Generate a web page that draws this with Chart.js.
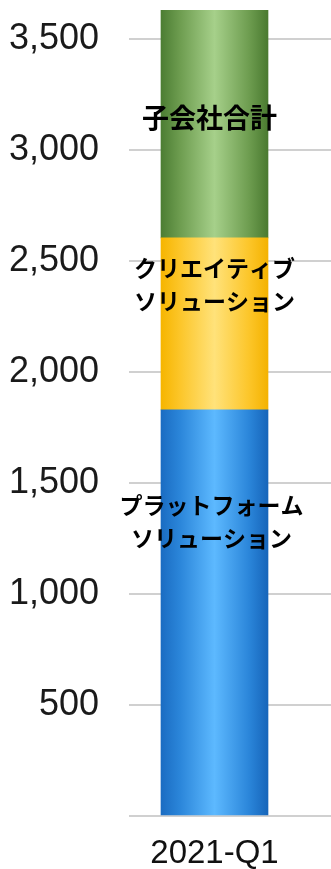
<!DOCTYPE html>
<html>
<head>
<meta charset="utf-8">
<script src="https://cdn.jsdelivr.net/npm/chart.js@4"></script>
<style>
  html, body { margin: 0; padding: 0; background: #fff; }
  #wrap { width: 331px; height: 869px; }
</style>
</head>
<body>
<div id="wrap"><canvas id="c"></canvas></div>
<script>
const categories = ["2021-Q1"];
const platformValues = [1830];
const creativeValues = [775];
const subsidiaryValues = [1025];
const yTickValues = [0, 500, 1000, 1500, 2000, 2500, 3000, 3500];
const segmentLabels = [
  ["プラットフォーム", "ソリューション"],
  ["クリエイティブ", "ソリューション"],
  ["子会社合計"],
];

// label placement inside each segment: fraction from segment top, x shift, font size
const labelStyle = [
  { frac: 0.277, dx: -3, size: 23 },
  { frac: 0.273, dx: 0, size: 23 },
  { frac: 0.47, dx: -5, size: 27 },
];

const BAR_W = 107;

// cylinder-like horizontal shading for a bar
function shade(stops) {
  return (ctx) => {
    const chart = ctx.chart;
    const x = chart.scales.x;
    if (!chart.chartArea || !x) return stops[2];
    const cx = x.getPixelForValue(0);
    const g = chart.ctx.createLinearGradient(cx - BAR_W / 2, 0, cx + BAR_W / 2, 0);
    g.addColorStop(0, stops[0]);
    g.addColorStop(0.18, stops[1]);
    g.addColorStop(0.5, stops[2]);
    g.addColorStop(0.82, stops[1]);
    g.addColorStop(1, stops[3]);
    return g;
  };
}

const segmentLabelsPlugin = {
  id: "segmentLabels",
  afterDatasetsDraw(chart) {
    const { ctx } = chart;
    ctx.save();
    ctx.fillStyle = "#000";
    ctx.textAlign = "center";
    ctx.textBaseline = "middle";
    chart.data.datasets.forEach((ds, i) => {
      const el = chart.getDatasetMeta(i).data[0];
      if (!el) return;
      const st = labelStyle[i];
      const lines = segmentLabels[i];
      const top = Math.min(el.y, el.base), bot = Math.max(el.y, el.base);
      const cy = top + st.frac * (bot - top);
      const lh = 33;
      ctx.font = `bold ${st.size}px "Noto Sans CJK JP", sans-serif`;
      lines.forEach((t, k) => {
        ctx.fillText(t, el.x + st.dx, cy + (k - (lines.length - 1) / 2) * lh);
      });
    });
    ctx.restore();
  },
};

const gridColor = "#d0d0d0";
const tickFamily = "'Liberation Sans Narrow', 'Arial Narrow', 'Liberation Sans', Arial, sans-serif";
const fixedTicks = (s) => { s.ticks = yTickValues.map((v) => ({ value: v })); };

new Chart(document.getElementById("c"), {
  type: "bar",
  data: {
    labels: categories,
    datasets: [
      { label: segmentLabels[0].join(""), data: platformValues,
        backgroundColor: shade(["#1a6cc2", "#2b86da", "#5db9ff", "#1665ba"]) },
      { label: segmentLabels[1].join(""), data: creativeValues,
        backgroundColor: shade(["#f6b500", "#fcc62a", "#ffe27a", "#f4b200"]) },
      { label: segmentLabels[2].join(""), data: subsidiaryValues,
        backgroundColor: shade(["#4c7d33", "#6e9d50", "#a6d08a", "#4a7a30"]) },
    ],
  },
  options: {
    responsive: true,
    maintainAspectRatio: false,
    animation: false,
    layout: { padding: { top: 6, left: 0, right: 0, bottom: 0 } },
    datasets: { bar: { barThickness: BAR_W, borderWidth: 0 } },
    plugins: { legend: { display: false }, tooltip: { enabled: false } },
    scales: {
      x: {
        stacked: true,
        grid: { display: false },
        border: { display: false },
        ticks: { color: "#111", font: { family: tickFamily, size: 33 }, padding: 10 },
        afterFit(s) { s.height = 53; s.paddingLeft = 0; s.paddingRight = 0; },
      },
      y: {
        stacked: true,
        min: 0,
        max: 3650,
        border: { display: false },
        grid: { color: gridColor, lineWidth: 2, drawTicks: false },
        ticks: {
          autoSkip: false,
          color: "#1a1a1a",
          font: { family: tickFamily, size: 36 },
          padding: 30,
          callback: (v) => (v === 0 ? "" : v.toLocaleString("en-US")),
        },
        afterBuildTicks: fixedTicks,
        afterFit(s) { s.width = 129; s.paddingTop = 0; s.paddingBottom = 0; },
      },
      yRight: {
        position: "right",
        min: 0,
        max: 3650,
        border: { display: false },
        grid: { color: gridColor, lineWidth: 2, drawOnChartArea: false, drawTicks: true, tickLength: 31 },
        ticks: { autoSkip: false, display: false },
        afterBuildTicks: fixedTicks,
        afterFit(s) { s.width = 31; s.paddingTop = 0; s.paddingBottom = 0; },
      },
    },
  },
  plugins: [segmentLabelsPlugin],
});
</script>
</body>
</html>
